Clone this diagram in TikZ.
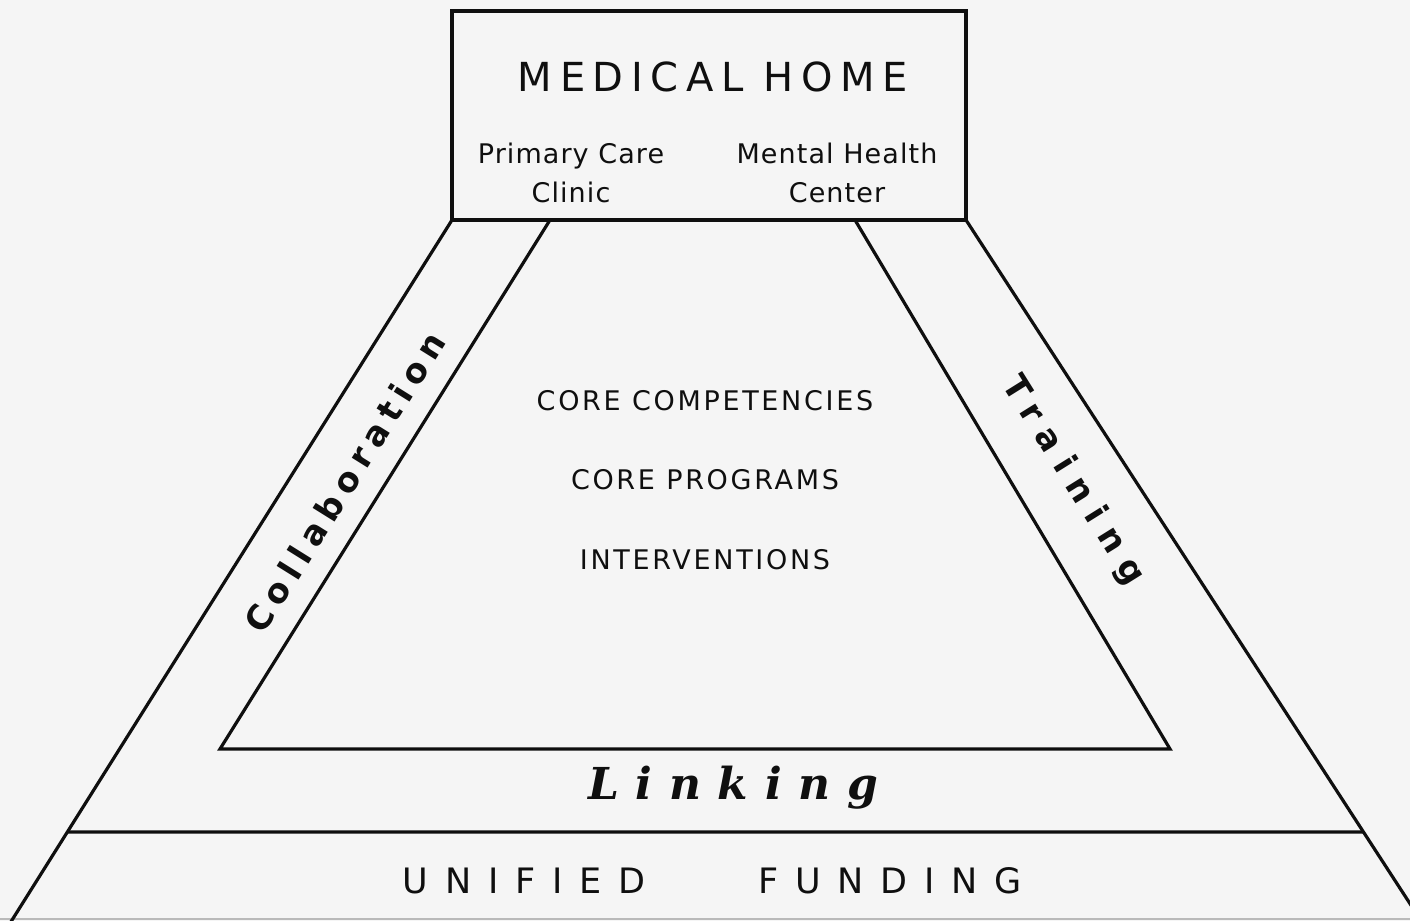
\documentclass[tikz,border=0pt]{standalone}
\usepackage{fontspec}
\setmainfont{DejaVu Sans}
\newfontfamily\titlefont[LetterSpace=19]{DejaVu Sans}
\newfontfamily\subfont[LetterSpace=4]{DejaVu Sans}
\newfontfamily\capsfont[LetterSpace=10]{DejaVu Sans}
\newfontfamily\collabfont[LetterSpace=22]{DejaVu Sans}
\newfontfamily\trainfont[LetterSpace=35]{DejaVu Sans}
\newfontfamily\linkfont[LetterSpace=38]{DejaVu Serif}
\newfontfamily\fundfont[LetterSpace=48]{DejaVu Sans}
\definecolor{bgcol}{RGB}{245,245,245}
\definecolor{ink}{RGB}{15,15,15}
\tikzset{
  frame/.style={draw=ink, line width=1.6pt, line join=miter},
  label/.style={inner sep=0pt, text=ink},
}
\begin{document}
\begin{tikzpicture}[x=0.5pt,y=-0.5pt]
\fill[bgcol] (0,0) rectangle (1410,921);
\useasboundingbox (0,0) rectangle (1410,921);
\clip (0,0) rectangle (1410,921);
% coordinates
\coordinate (boxTL) at (452,11);
\coordinate (boxBR) at (966,220);
\coordinate (boxBL) at (452,220);
\coordinate (boxTR) at (966,220);
\coordinate (outL) at (2,936);
\coordinate (outR) at (1431,936);
\coordinate (hL) at (0,832);
\coordinate (hR) at (1410,832);
\coordinate (fundL) at (intersection of boxBL--outL and hL--hR);
\coordinate (fundR) at (intersection of boxTR--outR and hL--hR);
\coordinate (inTL) at (550,220);
\coordinate (inTR) at (855,220);
\coordinate (inBR) at (1170,749);
\coordinate (inBL) at (220,749);
\coordinate (botL) at (0,919);
\coordinate (botR) at (1410,919);
% shapes
\draw[gray!55, line width=0.8pt] (botL) -- (botR);
\draw[frame] (boxTL) rectangle (boxBR);
\draw[frame] (boxBL) -- (outL);
\draw[frame] (boxTR) -- (outR);
\draw[frame] (fundL) -- (fundR);
\draw[frame] (inTL) -- (inBL) -- (inBR) -- (inTR);
% texts
\node[label, anchor=base, font=\titlefont\fontsize{20}{23}\selectfont] (medhome) at (713,91) {MEDICAL HOME};
\node[label, align=center, font=\subfont\fontsize{13.5}{19.5}\selectfont] (pcc) at (571,173) {Primary Care\\Clinic};
\node[label, align=center, font=\subfont\fontsize{13.5}{19.5}\selectfont] (mhc) at (837,173) {Mental Health\\Center};
\node[label, anchor=base, font=\capsfont\fontsize{13.5}{16}\selectfont] (corecomp) at (705,410) {CORE COMPETENCIES};
\node[label, anchor=base, font=\capsfont\fontsize{13.5}{16}\selectfont] (coreprog) at (705,489) {CORE PROGRAMS};
\node[label, anchor=base, font=\capsfont\fontsize{13.5}{16}\selectfont] (interv) at (705,569) {INTERVENTIONS};
\node[label, rotate=58, font=\collabfont\bfseries\fontsize{17}{20}\selectfont] (collab) at (345,482) {Collaboration};
\node[label, rotate=-58, font=\trainfont\bfseries\fontsize{17}{20}\selectfont] (train) at (1073,481) {Training};
\node[label, anchor=base, font=\linkfont\bfseries\itshape\fontsize{22}{25}\selectfont] (linking) at (733,799) {Linking};
\node[label, anchor=base, font=\fundfont\fontsize{17.5}{20}\selectfont] (unified) at (524,893) {UNIFIED};
\node[label, anchor=base, font=\fundfont\fontsize{17.5}{20}\selectfont] (funding) at (890,893) {FUNDING};
\end{tikzpicture}
\end{document}
